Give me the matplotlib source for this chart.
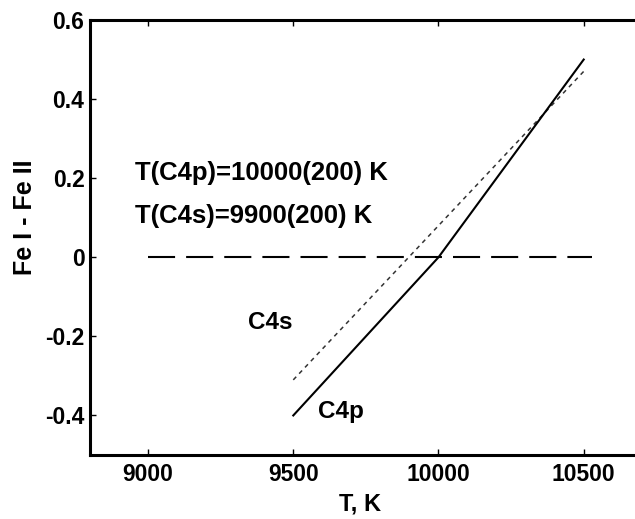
import matplotlib
matplotlib.use("Agg")
import matplotlib.pyplot as plt

plt.rcParams['font.family'] = ['Liberation Sans', 'DejaVu Sans']
plt.rcParams['font.weight'] = 'bold'

# Data
c4p_T = [9500, 10000, 10500]
c4p_v = [-0.40, 0.00, 0.50]
c4s_T = [9500, 10500]
c4s_v = [-0.31, 0.47]
zero_T = [9000, 10530]
zero_v = [0.0, 0.0]
xticks = [9000, 9500, 10000, 10500]
yticks = [-0.4, -0.2, 0, 0.2, 0.4, 0.6]
yticklabels = ['-0.4', '-0.2', '0', '0.2', '0.4', '0.6']

fig = plt.figure(figsize=(6.35, 5.19), dpi=100)
ax = fig.add_axes([0.1417, 0.1233, 0.869, 0.8382])

ax.plot(zero_T, zero_v, color='black', lw=1.5, dashes=(13, 5.3))
ax.plot(c4s_T, c4s_v, color='#333333', lw=1.1, dashes=(2.8, 2.8))
ax.plot(c4p_T, c4p_v, color='black', lw=1.5)

ax.set_xlim(8800, 10700)
ax.set_ylim(-0.5, 0.6)
ax.set_xticks(xticks)
ax.set_yticks(yticks)
ax.set_yticklabels(yticklabels)
ax.tick_params(direction='in', length=4, width=1, top=True, right=False, labelsize=16.5)
ax.tick_params(axis='x', pad=5.5)
ax.tick_params(axis='y', pad=4)
for lab in ax.get_xticklabels() + ax.get_yticklabels():
    lab.set_fontweight('bold')
for s in ax.spines.values():
    s.set_linewidth(2.2)
ax.spines['right'].set_visible(False)

ax.text(8955, 0.213, 'T(C4p)=10000(200) K', fontsize=18.5, fontweight='bold', va='center')
ax.text(8955, 0.104, 'T(C4s)=9900(200) K', fontsize=18.5, fontweight='bold', va='center')
ax.text(9343, -0.166, 'C4s', fontsize=17.5, fontweight='bold', va='center')
ax.text(9584, -0.389, 'C4p', fontsize=17.5, fontweight='bold', va='center')

ax.set_xlabel('T, K', fontsize=17, fontweight='bold')
ax.set_ylabel('Fe I - Fe II', fontsize=18, fontweight='bold')
ax.xaxis.set_label_coords(0.489, -0.087)
ax.yaxis.set_label_coords(-0.096, 0.547)

fig.savefig('out.png', dpi=100)
